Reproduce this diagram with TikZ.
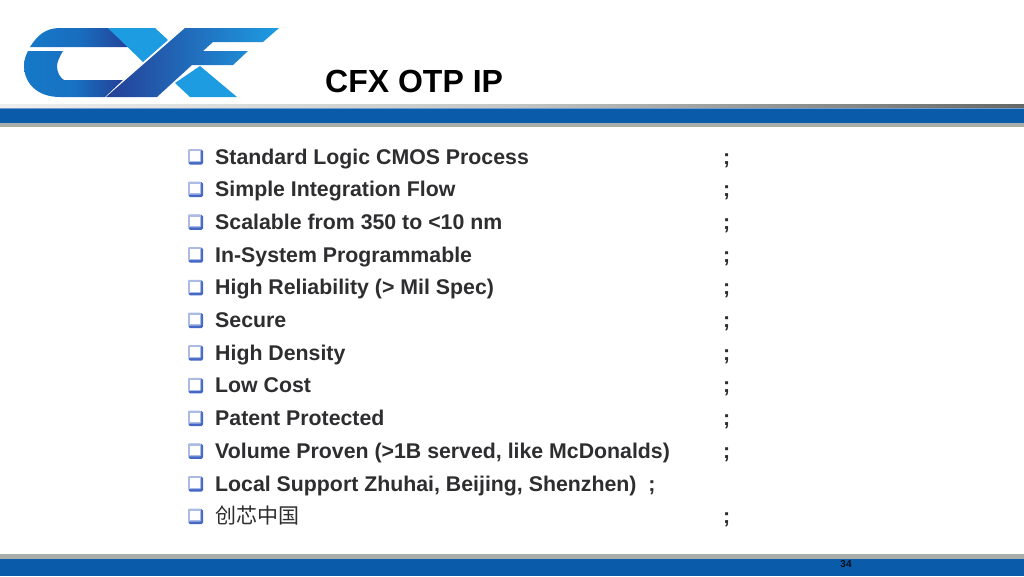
\documentclass[tikz,border=0pt]{standalone}
\usepackage{fontspec}
\setmainfont{Liberation Sans}
\newfontfamily\cjkfont{Noto Sans CJK SC}
\definecolor{bandblue}{HTML}{0A5CAB}
\definecolor{bandgray}{HTML}{A9ADAA}
\definecolor{lightlogo}{HTML}{1E9CE2}
\definecolor{midlogo}{HTML}{1678C8}
\definecolor{darklogo}{HTML}{243F96}
\definecolor{txt}{HTML}{2E2E30}
\definecolor{boxblue}{HTML}{4468C4}
\tikzset{
  x=1pt,y=-1pt,
  itemtext/.style={anchor=base west,inner sep=0pt,text=txt,font=\fontsize{21.3}{24}\selectfont\bfseries},
  semi/.style={itemtext},
  titletext/.style={anchor=base west,inner sep=0pt,text=black,font=\fontsize{32}{36}\selectfont\bfseries},
  pagenum/.style={inner sep=0pt,text=black!85!bandblue,font=\fontsize{10}{11}\selectfont\bfseries},
  boxshadow/.style={fill=boxblue,draw=none,rounded corners=1.5pt},
  boxedge/.style={fill=boxblue!45,draw=none,rounded corners=1pt},
  boxface/.style={fill=white,draw=none,inner sep=0pt,minimum width=9.5pt,minimum height=9.5pt,anchor=north west},
}
\newcommand{\bulletbox}[2]{%
  \fill[boxshadow] (188.5,#1-7.5) rectangle (203,#1+7.5);
  \fill[boxedge] (188,#1-8) rectangle (201,#1+5);
  \node[boxface] (#2) at (190,#1-6) {};
}
\begin{document}
\begin{tikzpicture}
\useasboundingbox (0,0) rectangle (1024,576);
\fill[white] (0,0) rectangle (1024,576);
% top band
\shade[left color=bandgray!20,right color=bandgray!60!black,middle color=bandgray!70] (0,104.5) rectangle (1024,108);
\fill[bandgray] (0,122) rectangle (1024,126.5);
\fill[bandblue] (0,108) rectangle (1024,122.5);
\fill[bandblue!60!white] (0,108) rectangle (1024,109);
% bottom band
\fill[bandgray] (0,554) rectangle (1024,558.5);
\fill[bandblue] (0,558.5) rectangle (1024,576);
% logo
\shade[left color=midlogo,right color=darklogo,middle color=midlogo!80!darklogo]
  (30,47) .. controls (37,36) and (45,28) .. (60,28) -- (108,28) -- (131,47) -- cycle;
\shade[left color=midlogo,right color=darklogo,middle color=midlogo!90!darklogo]
  (28,51) -- (63,51) .. controls (60,56) and (57,62) .. (57,66) .. controls (57,72) and (60,78) .. (64,80) -- (123,80) -- (105,97) -- (60,97)
  .. controls (38,97) and (24,84) .. (24,65) .. controls (24,60) and (26,55) .. (28,51) -- cycle;
\fill[lightlogo] (108,28) -- (155,28) -- (168,40) -- (143,62) -- cycle;
\shade[shading angle=65,left color=darklogo,right color=lightlogo]
  (106,97) -- (185,28) -- (279,28) -- (263,42) -- (213,42) -- (203,51) -- (248,51) -- (233,65) -- (192,65) -- (157,97) -- cycle;
\fill[lightlogo] (200,66) -- (237,97) -- (190,97) -- (175,83) -- cycle;
% title
\node[titletext] (title) at (325,92) {CFX OTP IP};
% items
\bulletbox{157}{b1}
\node[itemtext] (t1) at (215,164) {Standard Logic CMOS Process};
\node[semi] (s1) at (723,164) {;};
\bulletbox{189.7}{b2}
\node[itemtext] (t2) at (215,196.7) {Simple Integration Flow};
\node[semi] (s2) at (723,196.7) {;};
\bulletbox{222.4}{b3}
\node[itemtext] (t3) at (215,229.4) {Scalable from 350 to <10 nm};
\node[semi] (s3) at (723,229.4) {;};
\bulletbox{255.1}{b4}
\node[itemtext] (t4) at (215,262.1) {In-System Programmable};
\node[semi] (s4) at (723,262.1) {;};
\bulletbox{287.8}{b5}
\node[itemtext] (t5) at (215,294.8) {High Reliability (> Mil Spec)};
\node[semi] (s5) at (723,294.8) {;};
\bulletbox{320.5}{b6}
\node[itemtext] (t6) at (215,327.5) {Secure};
\node[semi] (s6) at (723,327.5) {;};
\bulletbox{353.2}{b7}
\node[itemtext] (t7) at (215,360.2) {High Density};
\node[semi] (s7) at (723,360.2) {;};
\bulletbox{385.9}{b8}
\node[itemtext] (t8) at (215,392.9) {Low Cost};
\node[semi] (s8) at (723,392.9) {;};
\bulletbox{418.6}{b9}
\node[itemtext] (t9) at (215,425.6) {Patent Protected};
\node[semi] (s9) at (723,425.6) {;};
\bulletbox{451.3}{b10}
\node[itemtext] (t10) at (215,458.3) {Volume Proven (>1B served, like McDonalds)};
\node[semi] (s10) at (723,458.3) {;};
\bulletbox{484}{b11}
\node[itemtext] (t11) at (215,491) {Local Support Zhuhai, Beijing, Shenzhen)\ \ ;};
\bulletbox{516.7}{b12}
\node[itemtext,font=\fontsize{21}{24}\selectfont\cjkfont] (t12) at (215,523.7) {创芯中国};
\node[semi] (s12) at (723,523.7) {;};
% page number
\node[pagenum] (pg) at (846,564) {34};
\end{tikzpicture}
\end{document}
